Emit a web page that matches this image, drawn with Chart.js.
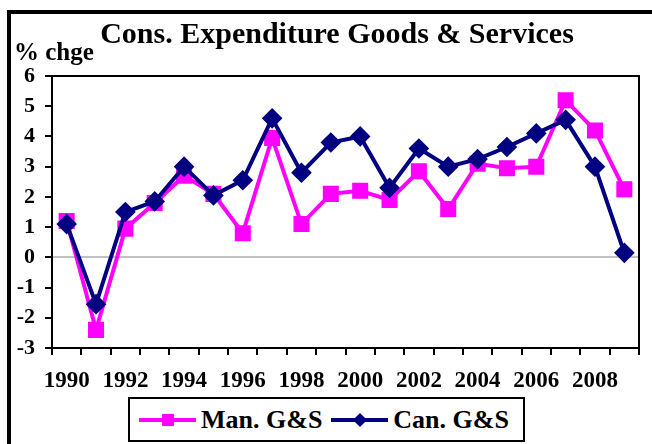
<!DOCTYPE html>
<html>
<head>
<meta charset="utf-8">
<script src="https://cdn.jsdelivr.net/npm/chart.js@4"></script>
<style>
  body { margin: 0; background: #fff; font-family: 'Liberation Serif', serif; font-weight: bold; }
  #wrap { position: relative; width: 652px; height: 444px; overflow: hidden; }
  #frame { position: absolute; left: 7px; top: 10px; width: 700px; height: 500px; border: 4px solid #000; }
  #chart { position: absolute; left: 0; top: 0; }
  .txt { position: absolute; white-space: nowrap; color: #000; }
  #title { left: 0; width: 674px; top: 16px; text-align: center; font-size: 30px; }
  #unit { left: 14px; top: 38px; font-size: 25px; }
  #legend { position: absolute; left: 128px; top: 397px; width: 397px; height: 45px; box-sizing: border-box;
            border: 2px solid #000; background: #fff; display: flex; align-items: center; font-size: 26px; }
  .sample { position: relative; width: 57px; height: 4px; margin: 0 5px 0 9px; }
  .sample i { position: absolute; left: 50%; top: 50%; }
  .man { background: #ff00ff; }
  .man i { width: 12px; height: 12px; margin: -6px 0 0 -6px; background: #ff00ff; }
  .can { background: #000080; }
  .can i { width: 10px; height: 10px; margin: -5px 0 0 -5px; background: #000080; transform: rotate(45deg); }
</style>
</head>
<body>
<div id="wrap">
  <div id="frame"></div>
  <canvas id="chart" width="652" height="444"></canvas>
  <div class="txt" id="title">Cons. Expenditure Goods &amp; Services</div>
  <div class="txt" id="unit">% chge</div>
  <div id="legend">
    <span class="sample man"><i></i></span><span>Man. G&amp;S</span>
    <span class="sample can"><i></i></span><span>Can. G&amp;S</span>
  </div>
</div>
<script>
const years = ['1990', '1991', '1992', '1993', '1994', '1995', '1996', '1997', '1998', '1999',
               '2000', '2001', '2002', '2003', '2004', '2005', '2006', '2007', '2008', '2009'];
const manGS = [1.2, -2.4, 0.95, 1.8, 2.7, 2.1, 0.8, 3.95, 1.1, 2.1, 2.2, 1.9, 2.85, 1.6, 3.1, 2.95, 3.0, 5.2, 4.2, 2.25];
const canGS = [1.1, -1.55, 1.5, 1.85, 3.0, 2.05, 2.55, 4.6, 2.8, 3.8, 4.0, 2.3, 3.6, 3.0, 3.25, 3.65, 4.1, 4.55, 3.0, 0.15];
const yMin = -3;
const yMax = 6;

// black box around the plot area
const plotFrame = {
  id: 'plotFrame',
  afterDatasetsDraw(chart) {
    const a = chart.chartArea, ctx = chart.ctx;
    ctx.save();
    ctx.strokeStyle = '#000';
    ctx.lineWidth = 2;
    ctx.strokeRect(a.left, a.top, a.right - a.left, a.bottom - a.top);
    ctx.restore();
  }
};

const font = { family: "'Liberation Serif', serif", weight: 'bold' };

new Chart(document.getElementById('chart'), {
  type: 'line',
  data: {
    labels: years,
    datasets: [
      { label: 'Man. G&S', data: manGS, borderColor: '#ff00ff', backgroundColor: '#ff00ff', borderWidth: 4,
        pointStyle: 'rect', pointRadius: 8.5, pointHoverRadius: 8.5, tension: 0, order: 2 },
      { label: 'Can. G&S', data: canGS, borderColor: '#000080', backgroundColor: '#000080', borderWidth: 4,
        pointStyle: 'rectRot', pointRadius: 7.5, pointHoverRadius: 7.5, tension: 0, order: 1 }
    ]
  },
  options: {
    responsive: false,
    animation: false,
    devicePixelRatio: 1,
    layout: { padding: { left: 0, top: 76, right: 13, bottom: 0 } },
    plugins: { legend: { display: false }, title: { display: false }, tooltip: { enabled: false } },
    scales: {
      x: {
        offset: true,
        grid: { offset: true, color: 'transparent', tickColor: '#000', tickLength: 7, lineWidth: 2 },
        border: { color: '#000', width: 2 },
        ticks: {
          autoSkip: false, maxRotation: 0, padding: 12, color: '#000',
          font: { ...font, size: 23 },
          callback: (v, i) => (i % 2 === 0 ? years[i] : '')
        },
        afterFit: s => { s.height = 96; }
      },
      y: {
        min: yMin, max: yMax,
        grid: {
          color: c => (c.tick.value === 0 ? '#c0c0c0' : 'transparent'),
          tickColor: '#000', tickLength: 7, lineWidth: 2
        },
        border: { color: '#000', width: 2 },
        ticks: { stepSize: 1, padding: 10, color: '#000', font: { ...font, size: 22 } },
        afterFit: s => { s.width = 52; }
      }
    }
  },
  plugins: [plotFrame]
});
</script>
</body>
</html>
